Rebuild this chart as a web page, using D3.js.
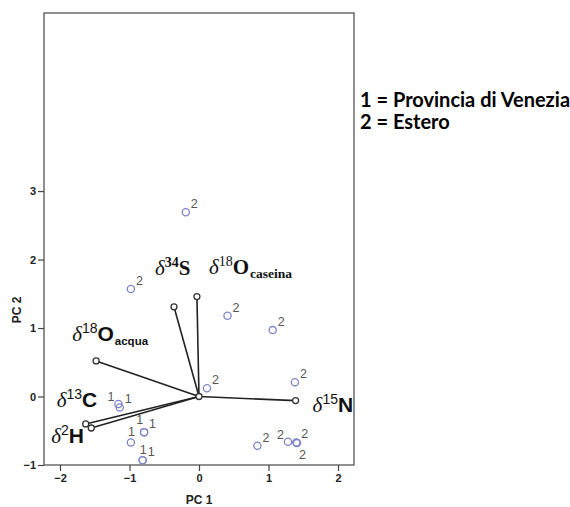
<!DOCTYPE html>
<html>
<head>
<meta charset="utf-8">
<script src="https://cdn.jsdelivr.net/npm/d3@7/dist/d3.min.js"></script>
<style>
  body { margin: 0; background: #fff; }
  svg { display: block; }
</style>
</head>
<body>
<div id="chart"></div>
<script>
// PCA biplot, scores + loadings

// scores (labelled by group)
const pc1    = [-0.19, -0.98, 0.41, 1.06, 0.115, 1.38, 0.84, 1.28, 1.40, 1.41, -1.16, -1.14, -0.79, -0.79, -0.98, -0.81, -0.81]
const pc2    = [ 2.69,  1.57, 1.18, 0.97, 0.12,  0.21, -0.72, -0.66, -0.67, -0.68, -0.11, -0.16, -0.52, -0.52, -0.67, -0.93, -0.93]
const groups = ["2", "2", "2", "2", "2", "2", "2", "2", "2", "2", "1", "1", "1", "1", "1", "1", "1"]
const labelSide = ["ur", "ur", "ur", "ur", "ur", "ur", "ur", "ul", "ur", "lr", "ul", "ur", "ult", "ur", "u", "u", "ur"]

// loadings
const varNames = ["d34S", "d18Ocaseina", "d18Oacqua", "d13C", "d2H", "d15N"]
const load1    = [-0.36, -0.03, -1.48, -1.63, -1.55, 1.39]
const load2    = [ 1.31,  1.46,  0.52, -0.40, -0.46, -0.06]

const xTicks = [-2, -1, 0, 1, 2]
const yTicks = [-1, 0, 1, 2, 3]
const legendLines = ["1 = Provincia di Venezia", "2 = Estero"]

let width = 570
let height = 507
let plot = { left: 44, right: 354, top: 13, bottom: 465 }

var svg = d3.select("#chart")
    .append("svg")
    .attr("width", width)
    .attr("height", height)

var x = d3.scaleLinear().domain([-2.23, 2.23]).range([plot.left, plot.right])
var y = d3.scaleLinear().domain([-1, 5.6]).range([plot.bottom, plot.top])

// frame
svg.append("rect")
    .attr("x", plot.left).attr("y", plot.top)
    .attr("width", plot.right - plot.left)
    .attr("height", plot.bottom - plot.top)
    .attr("fill", "none")
    .attr("stroke", "#555")
    .attr("stroke-width", 1.3)

var yAxis = svg.append("g")
    .attr("transform", "translate(" + plot.left + ",0)")
    .call(d3.axisLeft(y).tickValues(yTicks).tickSize(6).tickPadding(2).tickFormat(d3.format("d")))
var xAxis = svg.append("g")
    .attr("transform", "translate(0," + plot.bottom + ")")
    .call(d3.axisBottom(x).tickValues(xTicks).tickSize(6).tickPadding(3).tickFormat(d3.format("d")))

;[xAxis, yAxis].forEach(function (ax) {
    ax.select(".domain").remove()
    ax.selectAll("line").attr("stroke", "#444").attr("stroke-width", 1.2)
    ax.selectAll("text")
        .attr("fill", "#222")
        .style("font-family", "'Liberation Sans', Arial, sans-serif")
        .style("font-weight", "bold")
        .style("font-size", "11px")
})

svg.append("text")
    .text("PC 1")
    .attr("x", x(0)).attr("y", 504)
    .style("text-anchor", "middle")
    .style("font-family", "'Liberation Sans', Arial, sans-serif")
    .style("font-weight", "bold")
    .style("font-size", "12px")
    .attr("fill", "#222")

svg.append("text")
    .text("PC 2")
    .attr("transform", "translate(21,310) rotate(-90)")
    .style("text-anchor", "middle")
    .style("font-family", "'Liberation Sans', Arial, sans-serif")
    .style("font-weight", "bold")
    .style("font-size", "12px")
    .attr("fill", "#222")

// loading vectors
var loads = varNames.map(function (n, i) { return { name: n, a: load1[i], b: load2[i] } })

svg.selectAll("line.vec")
    .data(loads)
    .enter()
    .append("line")
    .attr("class", "vec")
    .attr("x1", x(0)).attr("y1", y(0))
    .attr("x2", function (d) { return x(d.a) })
    .attr("y2", function (d) { return y(d.b) })
    .attr("stroke", "#222")
    .attr("stroke-width", 1.6)

svg.selectAll("circle.vec")
    .data(loads.concat([{ name: "origin", a: 0, b: 0 }]))
    .enter()
    .append("circle")
    .attr("class", "vec")
    .attr("cx", function (d) { return x(d.a) })
    .attr("cy", function (d) { return y(d.b) })
    .attr("r", 3)
    .attr("fill", "#fff")
    .attr("stroke", "#333")
    .attr("stroke-width", 1.3)

// score points
var points = pc1.map(function (v, i) { return { a: v, b: pc2[i], g: groups[i], side: labelSide[i] } })

svg.selectAll("circle.pt")
    .data(points)
    .enter()
    .append("circle")
    .attr("class", "pt")
    .attr("cx", function (d) { return x(d.a) })
    .attr("cy", function (d) { return y(d.b) })
    .attr("r", 3.6)
    .attr("fill", "none")
    .attr("stroke", "#7f86c8")
    .attr("stroke-width", 1.3)

var offsets = {
    ur:  [5, -4, "start"],
    ul:  [-4, -3, "end"],
    ult: [-1, -8, "end"],
    lr:  [2, 16, "start"],
    u:   [-3, -6, "start"]
}

svg.selectAll("text.pt")
    .data(points)
    .enter()
    .append("text")
    .attr("class", "pt")
    .text(function (d) { return d.g })
    .attr("x", function (d) { return x(d.a) + offsets[d.side][0] })
    .attr("y", function (d) { return y(d.b) + offsets[d.side][1] })
    .style("text-anchor", function (d) { return offsets[d.side][2] })
    .style("font-family", "'Liberation Sans', Arial, sans-serif")
    .style("font-size", "12.5px")
    .attr("fill", "#555")

// vector labels
var serif = "'Liberation Serif', 'Times New Roman', serif"
var sans = "'Liberation Sans', Arial, sans-serif"
var labelDefs = {
    d34S:        { dx: -19, dy: -32, font: serif, sup: "34", supBold: true, main: "S", sub: "", subSize: 0 },
    d18Ocaseina: { dx: 12,  dy: -23, font: serif, sup: "18", supBold: false, main: "O", sub: "caseina", subSize: 13.5 },
    d18Oacqua:   { dx: -24, dy: -20, font: sans,  sup: "18", supBold: false, main: "O", sub: "acqua", subSize: 11.5 },
    d13C:        { dx: -29, dy: -17, font: sans,  sup: "13", supBold: false, main: "C", sub: "", subSize: 0 },
    d2H:         { dx: -40, dy: 15,  font: sans,  sup: "2",  supBold: false, main: "H", sub: "", subSize: 0 },
    d15N:        { dx: 17,  dy: 11,  font: sans,  sup: "15", supBold: false, main: "N", sub: "", subSize: 0 }
}

loads.forEach(function (d) {
    var def = labelDefs[d.name]
    var t = svg.append("text")
        .attr("x", x(d.a) + def.dx)
        .attr("y", y(d.b) + def.dy)
        .attr("fill", "#111")
    t.append("tspan")
        .text("δ")
        .style("font-family", serif)
        .style("font-style", "italic")
        .style("font-size", "21px")
    t.append("tspan")
        .text(def.sup)
        .attr("dy", -8)
        .style("font-family", def.font)
        .style("font-weight", def.supBold ? "bold" : "normal")
        .style("font-size", "14px")
    t.append("tspan")
        .text(def.main)
        .attr("dy", 8)
        .style("font-family", def.font)
        .style("font-weight", "bold")
        .style("font-size", "21px")
    if (def.sub) {
        t.append("tspan")
            .text(def.sub)
            .attr("dy", 4)
            .attr("dx", 1)
            .style("font-family", def.font)
            .style("font-weight", "bold")
            .style("font-size", def.subSize + "px")
    }
})

// legend text
svg.selectAll("text.legend")
    .data(legendLines)
    .enter()
    .append("text")
    .attr("class", "legend")
    .text(function (d) { return d })
    .attr("x", 360)
    .attr("y", function (d, i) { return 107 + i * 22 })
    .style("font-family", "Lato, 'Open Sans', sans-serif")
    .style("font-weight", "bold")
    .style("font-size", "20px")
    .attr("fill", "#000")
</script>
</body>
</html>
